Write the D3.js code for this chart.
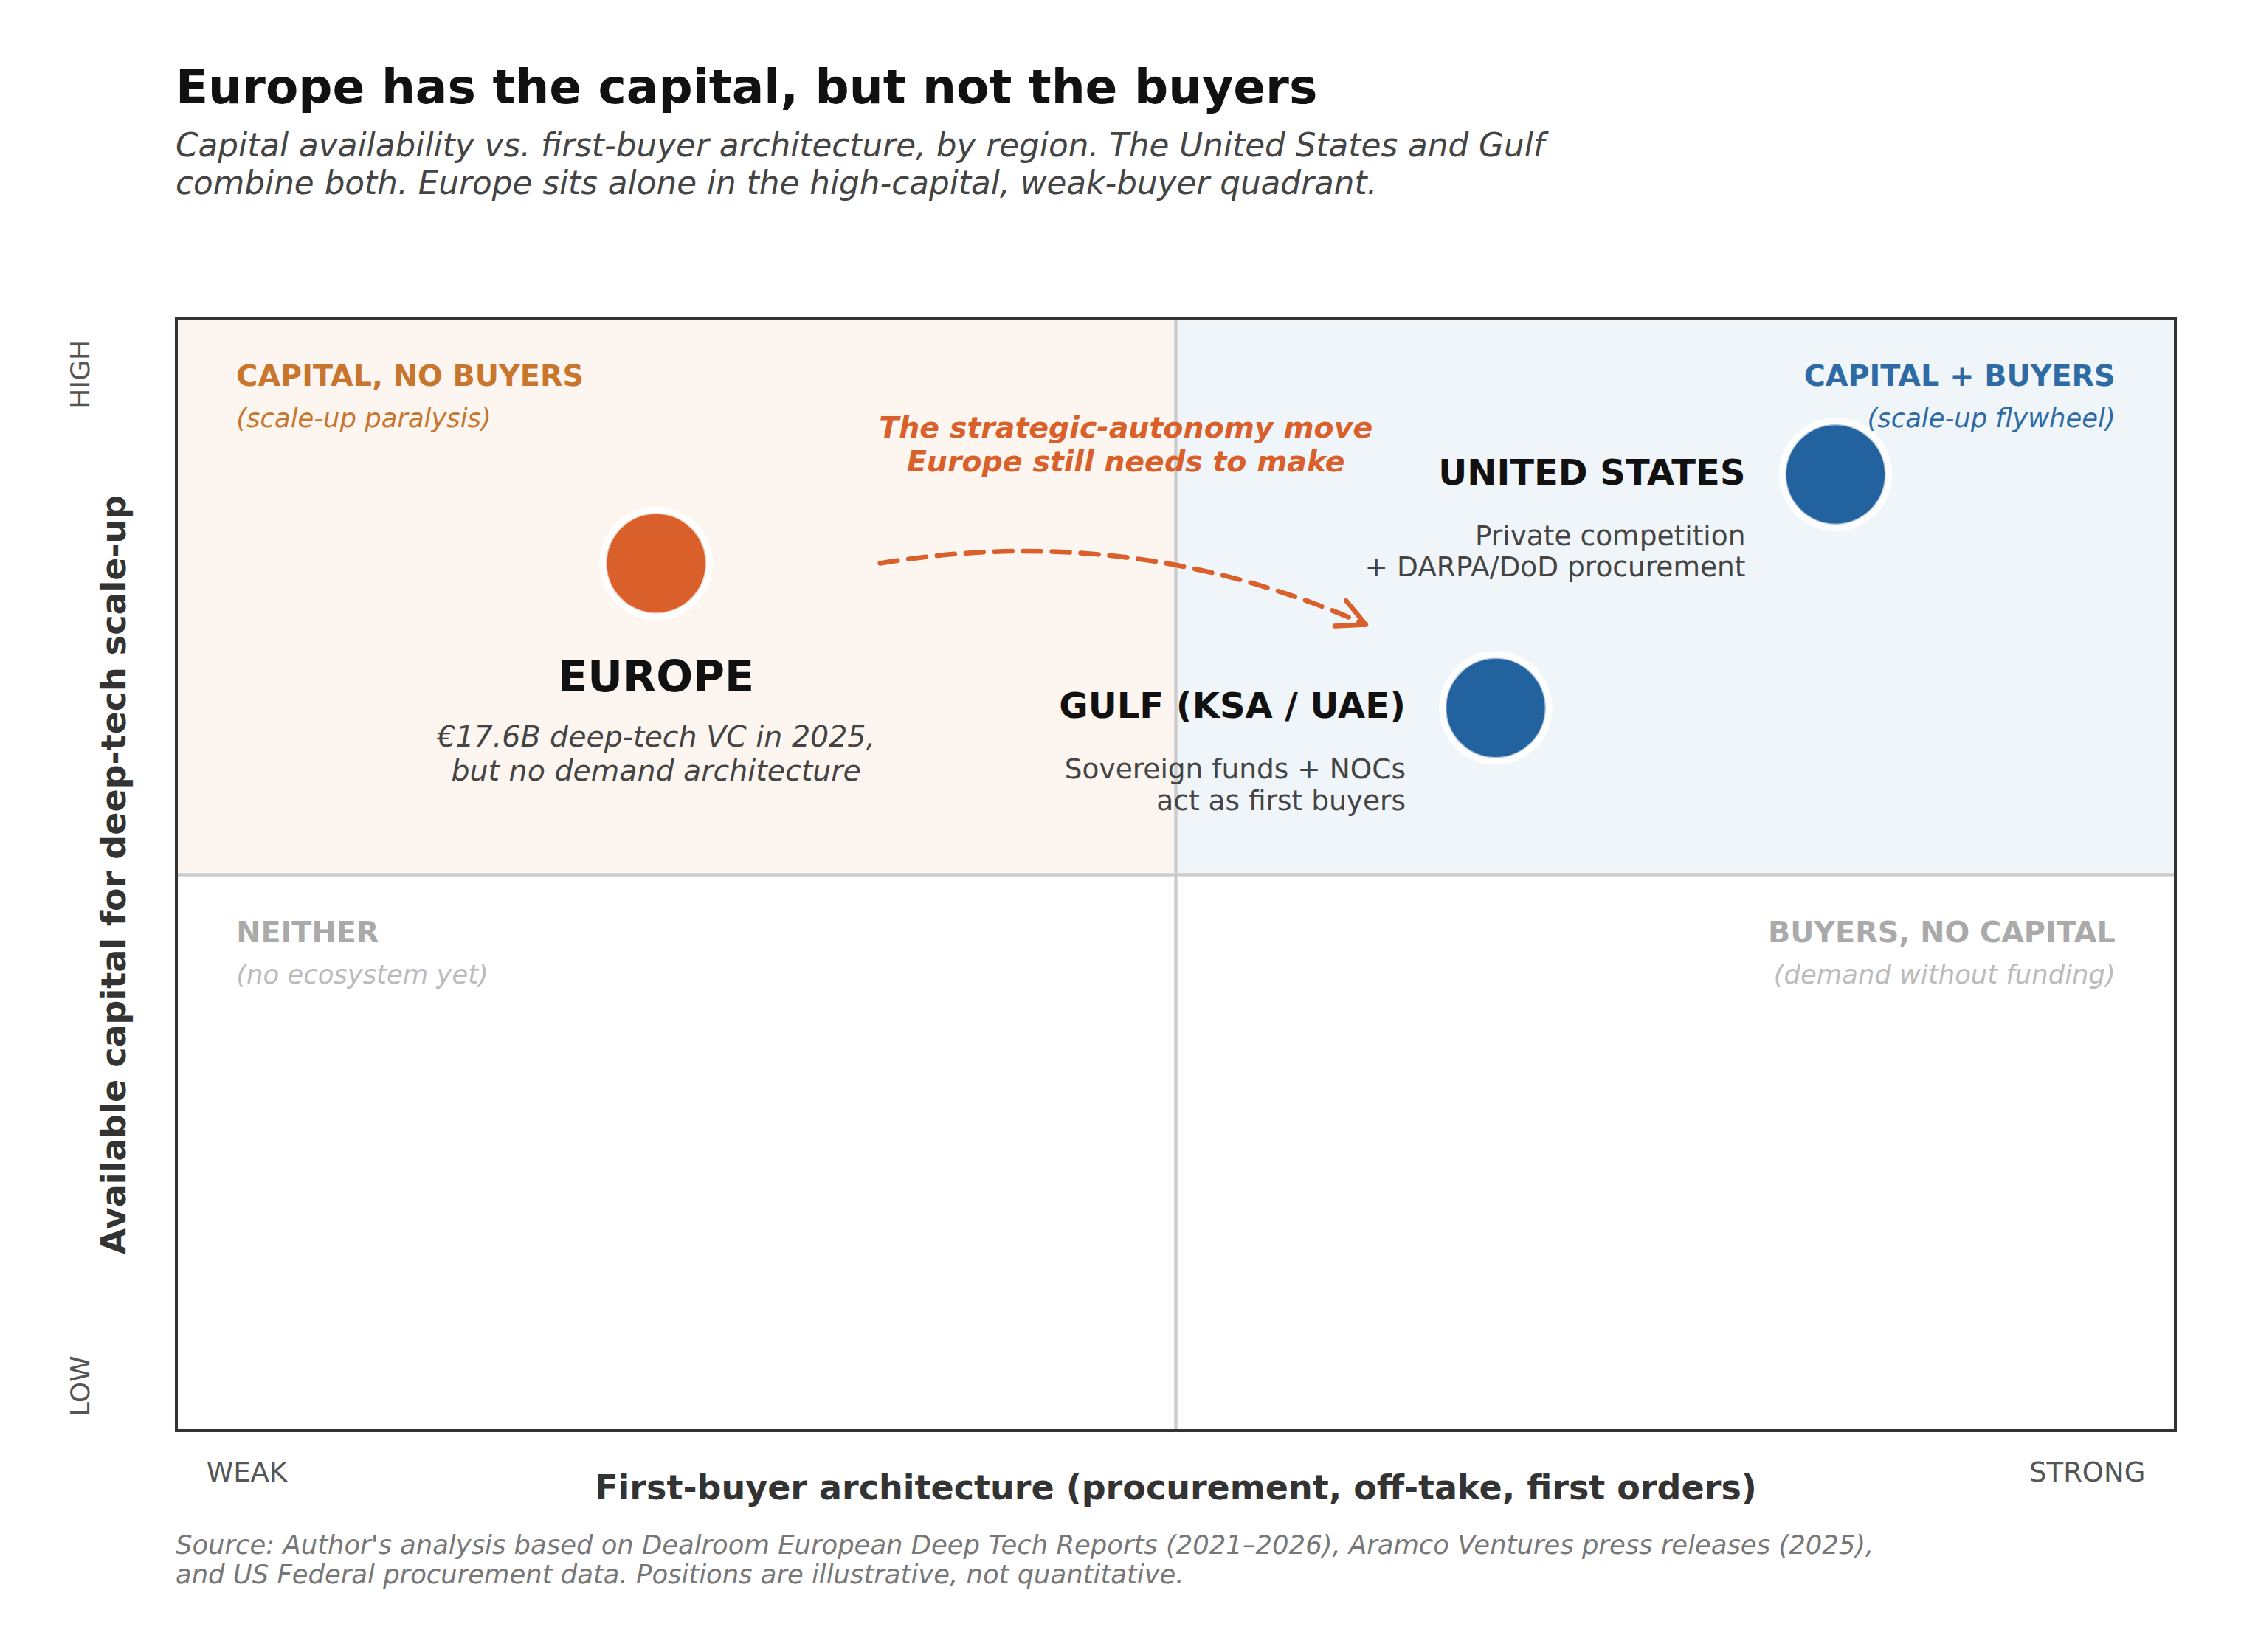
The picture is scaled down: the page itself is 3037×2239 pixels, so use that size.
<!DOCTYPE html>
<html lang="en">
<head>
<meta charset="UTF-8">
<title>Europe has the capital, but not the buyers</title>
<style>
  body { margin: 0; background: #ffffff; }
  svg { display: block; font-family: "DejaVu Sans", sans-serif; }
</style>
</head>
<body>
<svg id="chart"></svg>
<script src="https://d3js.org/d3.v7.min.js"></script>
<script>
// --- data (0-10 illustrative scores) ---
const regionNames = ["EUROPE", "UNITED STATES", "GULF (KSA / UAE)"];
const firstBuyerScore = [2.4, 8.3, 6.6];
const capitalScore = [7.8, 8.6, 6.5];
const regionNotes = [
  ["€17.6B deep-tech VC in 2025,", "but no demand architecture"],
  ["Private competition", "+ DARPA/DoD procurement"],
  ["Sovereign funds + NOCs", "act as first buyers"]
];

const quadrantTitles = ["CAPITAL, NO BUYERS", "CAPITAL + BUYERS", "NEITHER", "BUYERS, NO CAPITAL"];
const quadrantNotes = ["(scale-up paralysis)", "(scale-up flywheel)", "(no ecosystem yet)", "(demand without funding)"];

const xEndLabels = ["WEAK", "STRONG"];
const yEndLabels = ["LOW", "HIGH"];

const moveText = ["The strategic-autonomy move", "Europe still needs to make"];
const moveFrom = [3.52, 7.8];
const moveTo = [5.95, 7.25];

const titleText = "Europe has the capital, but not the buyers";
const subtitleLines = [
  "Capital availability vs. first-buyer architecture, by region. The United States and Gulf",
  "combine both. Europe sits alone in the high-capital, weak-buyer quadrant."
];
const xAxisTitle = "First-buyer architecture (procurement, off-take, first orders)";
const yAxisTitle = "Available capital for deep-tech scale-up";
const sourceLines = [
  "Source: Author's analysis based on Dealroom European Deep Tech Reports (2021–2026), Aramco Ventures press releases (2025),",
  "and US Federal procurement data. Positions are illustrative, not quantitative."
];

// --- layout ---
const width = 3037, height = 2239;
const x = d3.scaleLinear().domain([0, 10]).range([239, 2948]);
const y = d3.scaleLinear().domain([0, 10]).range([1939, 432]);

const orange = "#D95F2B", blue = "#22629E";
const regionColor = { "EUROPE": orange, "UNITED STATES": blue, "GULF (KSA / UAE)": blue };

const svg = d3.select("#chart").attr("width", width).attr("height", height);
svg.append("rect").attr("width", width).attr("height", height).attr("fill", "#fff");

// title block
svg.append("text").attr("x", 238).attr("y", 140)
  .attr("font-size", 64.6).attr("font-weight", "bold").attr("fill", "#111")
  .text(titleText);
svg.append("g").selectAll("text").data(subtitleLines).join("text")
  .attr("x", 238).attr("y", (d, i) => 212 + i * 51)
  .attr("font-size", 43.7).attr("font-style", "italic").attr("fill", "#444")
  .text(d => d);

// quadrant shading
const quads = [
  { x0: 0, x1: 5, y0: 5, y1: 10, fill: "#FDF5EF" },
  { x0: 5, x1: 10, y0: 5, y1: 10, fill: "#F0F5FA" }
];
svg.append("g").selectAll("rect").data(quads).join("rect")
  .attr("x", d => x(d.x0)).attr("y", d => y(d.y1))
  .attr("width", d => x(d.x1) - x(d.x0)).attr("height", d => y(d.y0) - y(d.y1))
  .attr("fill", d => d.fill);

// dividers
svg.append("line").attr("x1", x(5)).attr("x2", x(5)).attr("y1", y(0)).attr("y2", y(10))
  .attr("stroke", "#CCCCCC").attr("stroke-width", 4.5);
svg.append("line").attr("x1", x(0)).attr("x2", x(10)).attr("y1", y(5)).attr("y2", y(5))
  .attr("stroke", "#CCCCCC").attr("stroke-width", 4.5);

// frame
svg.append("rect").attr("x", x(0)).attr("y", y(10))
  .attr("width", x(10) - x(0)).attr("height", y(0) - y(10))
  .attr("fill", "none").attr("stroke", "#333").attr("stroke-width", 4);

// quadrant labels
const quadPos = [
  { qx: 0.3, qy: 9.6, anchor: "start", title: "#C8762E", note: "#C8762E" },
  { qx: 9.7, qy: 9.6, anchor: "end", title: "#2E6AA3", note: "#2E6AA3" },
  { qx: 0.3, qy: 4.6, anchor: "start", title: "#AAAAAA", note: "#BBBBBB" },
  { qx: 9.7, qy: 4.6, anchor: "end", title: "#AAAAAA", note: "#BBBBBB" }
];
const qLabels = svg.append("g").selectAll("g").data(quadrantTitles).join("g");
qLabels.append("text")
  .attr("x", (d, i) => x(quadPos[i].qx)).attr("y", (d, i) => y(quadPos[i].qy) + 31)
  .attr("text-anchor", (d, i) => quadPos[i].anchor)
  .attr("font-size", 39.7).attr("font-weight", "bold")
  .attr("fill", (d, i) => quadPos[i].title)
  .text(d => d);
qLabels.append("text")
  .attr("x", (d, i) => x(quadPos[i].qx)).attr("y", (d, i) => y(quadPos[i].qy) + 87)
  .attr("text-anchor", (d, i) => quadPos[i].anchor)
  .attr("font-size", 35.4).attr("font-style", "italic")
  .attr("fill", (d, i) => quadPos[i].note)
  .text((d, i) => quadrantNotes[i]);

// the "move" arrow: quadratic arc like matplotlib arc3, rad = -0.15
const p0 = [x(moveFrom[0]), y(moveFrom[1])];
const p2 = [x(moveTo[0]), y(moveTo[1])];
const rad = 0.15;
const ctrl = [
  (p0[0] + p2[0]) / 2 + rad * (p2[1] - p0[1]),
  (p0[1] + p2[1]) / 2 - rad * (p2[0] - p0[0])
];
const arc = d3.path();
arc.moveTo(p0[0], p0[1]);
arc.quadraticCurveTo(ctrl[0], ctrl[1], p2[0], p2[1]);
svg.append("path").attr("d", arc.toString())
  .attr("fill", "none").attr("stroke", orange).attr("stroke-width", 6.5)
  .attr("stroke-linecap", "round").attr("stroke-dasharray", "24 15");

const ang = Math.atan2(p2[1] - ctrl[1], p2[0] - ctrl[0]);
const headLen = 42, headSpread = 26.6 * Math.PI / 180;
const head = d3.path();
head.moveTo(p2[0] - headLen * Math.cos(ang - headSpread), p2[1] - headLen * Math.sin(ang - headSpread));
head.lineTo(p2[0], p2[1]);
head.lineTo(p2[0] - headLen * Math.cos(ang + headSpread), p2[1] - headLen * Math.sin(ang + headSpread));
svg.append("path").attr("d", head.toString())
  .attr("fill", "none").attr("stroke", orange).attr("stroke-width", 6.5)
  .attr("stroke-linecap", "round").attr("stroke-linejoin", "round");

svg.append("g").selectAll("text").data(moveText).join("text")
  .attr("x", x(4.75)).attr("y", (d, i) => 593 + i * 46)
  .attr("text-anchor", "middle")
  .attr("font-size", 39.5).attr("font-weight", "bold").attr("font-style", "italic")
  .attr("fill", orange)
  .text(d => d);

// region points
const regions = regionNames.map((name, i) => ({
  name, bx: firstBuyerScore[i], cy: capitalScore[i], notes: regionNotes[i]
}));

const pts = svg.append("g").selectAll("g").data(regions).join("g")
  .attr("transform", d => `translate(${x(d.bx)},${y(d.cy)})`);
pts.append("circle").attr("r", 77).attr("fill", "#fff").attr("opacity", 0.9);
pts.append("circle").attr("r", 68)
  .attr("fill", d => regionColor[d.name])
  .attr("stroke", "#fff").attr("stroke-opacity", 0.6).attr("stroke-width", 3);

// region name + notes
pts.append("text")
  .attr("x", d => d.name === "EUROPE" ? 0 : -122)
  .attr("y", d => d.name === "EUROPE" ? 173 : 14)
  .attr("text-anchor", d => d.name === "EUROPE" ? "middle" : "end")
  .attr("font-size", d => d.name === "EUROPE" ? 58.7 : 48)
  .attr("font-weight", "bold").attr("fill", "#111")
  .text(d => d.name);
pts.each(function (d) {
  const isEu = d.name === "EUROPE";
  d3.select(this).selectAll("text.note").data(d.notes).join("text")
    .attr("class", "note")
    .attr("x", isEu ? 0 : -122)
    .attr("y", (t, i) => isEu ? 248 + i * 46 : 96 + i * 42.5)
    .attr("text-anchor", isEu ? "middle" : "end")
    .attr("font-size", isEu ? 39.5 : 37.5)
    .attr("font-style", isEu ? "italic" : "normal")
    .attr("fill", "#444")
    .text(t => t);
});

// axis end labels
svg.append("text").attr("x", x(0.15)).attr("y", 2008)
  .attr("font-size", 37).attr("fill", "#555").text(xEndLabels[0]);
svg.append("text").attr("x", x(9.85)).attr("y", 2008).attr("text-anchor", "end")
  .attr("font-size", 37).attr("fill", "#555").text(xEndLabels[1]);
const yEndPos = [0.4, 9.5];
svg.append("g").selectAll("text").data(yEndLabels).join("text")
  .attr("transform", (d, i) => `translate(121,${y(yEndPos[i])}) rotate(-90)`)
  .attr("text-anchor", "middle")
  .attr("font-size", 36).attr("fill", "#555")
  .text(d => d);

// axis titles
svg.append("text").attr("x", x(5)).attr("y", 2032).attr("text-anchor", "middle")
  .attr("font-size", 46).attr("font-weight", "bold").attr("fill", "#333")
  .text(xAxisTitle);
svg.append("text").attr("transform", `translate(170,${y(5)}) rotate(-90)`)
  .attr("text-anchor", "middle")
  .attr("font-size", 46).attr("font-weight", "bold").attr("fill", "#333")
  .text(yAxisTitle);

// source
svg.append("g").selectAll("text").data(sourceLines).join("text")
  .attr("x", 238).attr("y", (d, i) => 2106 + i * 40)
  .attr("font-size", 35.4).attr("font-style", "italic").attr("fill", "#777")
  .text(d => d);
</script>
</body>
</html>
